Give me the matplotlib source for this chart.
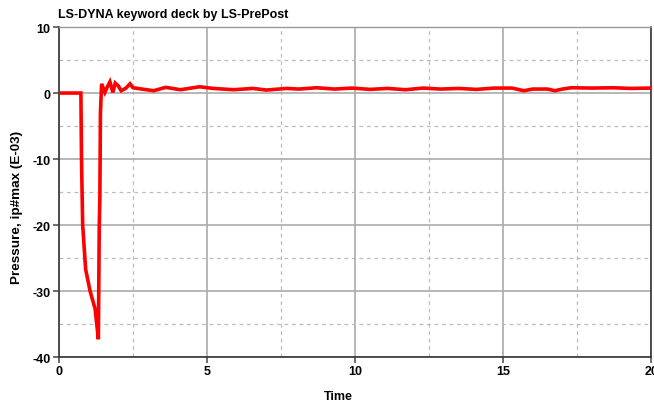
import matplotlib
matplotlib.use("Agg")
import matplotlib.pyplot as plt
from matplotlib.ticker import MultipleLocator

time = [0.0, 0.74, 0.76, 0.80, 0.90, 1.05, 1.22, 1.33, 1.36, 1.38, 1.40, 1.44,
        1.55, 1.63, 1.72, 1.82, 1.90, 2.00, 2.10, 2.25, 2.40, 2.50, 2.80, 3.20,
        3.60, 4.10, 4.75, 5.20, 5.90, 6.55, 7.00, 7.70, 8.10, 8.70, 9.30, 9.90,
        10.50, 11.10, 11.70, 12.30, 12.90, 13.50, 14.10, 14.70, 15.30, 15.70,
        16.00, 16.50, 16.75, 17.00, 17.30, 18.00, 18.70, 19.30, 20.00]
pressure = [0.0, 0.0, -10.0, -20.0, -26.7, -30.0, -32.7, -37.3, -20.0, -16.0, -3.0, 1.4,
            0.1, 0.9, 1.7, 0.1, 1.5, 1.1, 0.35, 0.7, 1.4, 0.8, 0.6, 0.35,
            0.86, 0.5, 0.95, 0.7, 0.5, 0.7, 0.45, 0.7, 0.6, 0.8, 0.6, 0.75,
            0.55, 0.7, 0.5, 0.75, 0.6, 0.7, 0.55, 0.75, 0.75, 0.35,
            0.6, 0.6, 0.35, 0.6, 0.8, 0.75, 0.8, 0.7, 0.75]

title = "LS-DYNA keyword deck by LS-PrePost"
xlabel = "Time"
ylabel = "Pressure, ip#max (E-03)"

plt.rcParams['font.family'] = ['Liberation Sans', 'DejaVu Sans']
plt.rcParams['axes.unicode_minus'] = False
fig = plt.figure(figsize=(6.54, 4.06), dpi=100)
ax = fig.add_axes([0.0902, 0.118, 0.9054, 0.813])

ax.plot(time, pressure, color='#ff0000', lw=2.6, solid_joinstyle='miter', zorder=3)
ax.set_xlim(0, 20)
ax.set_ylim(-40, 10)
ax.xaxis.set_major_locator(MultipleLocator(5))
ax.xaxis.set_minor_locator(MultipleLocator(2.5))
ax.yaxis.set_major_locator(MultipleLocator(10))
ax.yaxis.set_minor_locator(MultipleLocator(5))
ax.grid(which='major', color='#aaaaaa', lw=1.2, ls='-')
ax.grid(which='minor', color='#bbbbbb', lw=0.9, ls=(0, (3, 3)))
ax.tick_params(which='minor', length=0)
ax.tick_params(which='major', length=4, width=1.2, direction='out', color='#555555',
               labelsize=9, pad=2)
for lab in ax.get_xticklabels() + ax.get_yticklabels():
    lab.set_fontweight('bold')
for s in ['left', 'bottom', 'right']:
    ax.spines[s].set_color('#333333')
    ax.spines[s].set_linewidth(1.2)
ax.spines['top'].set_color('#999999')
ax.spines['top'].set_linewidth(1.0)

fig.text(58/654, 1-15/406, title, fontsize=9, fontweight='bold', ha='left', va='center')
fig.text(17/654, 1-207/406, ylabel, fontsize=9.7, fontweight='bold', rotation=90,
         ha='center', va='center')
fig.text(338/654, 1-397/406, xlabel, fontsize=9, fontweight='bold', ha='center', va='center')

fig.savefig("out.png", dpi=100)
